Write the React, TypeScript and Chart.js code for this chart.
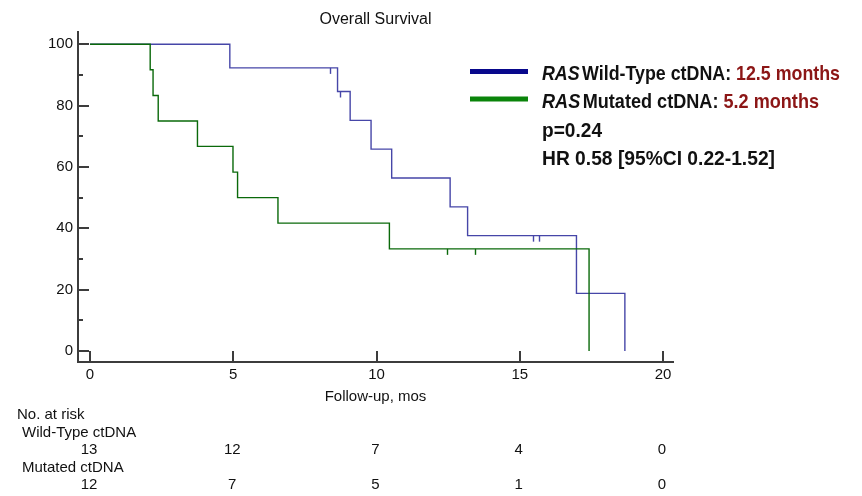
import React, { useEffect, useRef } from "react";
import { Chart, registerables } from "chart.js";

Chart.register(...registerables);

// ---- data ----
const wtTimes = [0, 4.88, 8.64, 9.08, 9.81, 10.53, 12.57, 13.18, 16.98, 18.67];
const wtSurv = [100, 92.3, 84.6, 75.2, 65.8, 56.4, 47.0, 37.6, 18.8, 0];
const wtCensor = [8.37, 8.72, 15.46, 15.68];

const mutTimes = [0, 2.1, 2.2, 2.38, 3.75, 4.99, 5.15, 6.56, 10.45, 17.42];
const mutSurv = [100, 91.7, 83.3, 75.0, 66.7, 58.3, 50.0, 41.7, 33.3, 0];
const mutCensor = [12.45, 13.45];

const xTicks = [0, 5, 10, 15, 20];
const yTicks = [0, 20, 40, 60, 80, 100];
const yMinorTicks = [10, 30, 50, 70, 90];

const riskTimes = [0, 5, 10, 15, 20];
const wtRisk = [13, 12, 7, 4, 0];
const mutRisk = [12, 7, 5, 1, 0];

const chartTitle = "Overall Survival";
const xTitle = "Follow-up, mos";
const riskHeader = "No. at risk";
const wtRowLabel = "Wild-Type ctDNA";
const mutRowLabel = "Mutated ctDNA";
const legendRows = [
  { gene: "RAS", label: "Wild-Type ctDNA: ", median: "12.5 months" },
  { gene: "RAS", label: "Mutated ctDNA: ", median: "5.2 months" },
];
const statLines = ["p=0.24", "HR 0.58 [95%CI 0.22-1.52]"];

// ---- styles ----
const BLUE_LINE = "#4646a8";
const GREEN_LINE = "#0a690a";
const BLUE_LEG = "#08088c";
const GREEN_LEG = "#0a840a";
const RED = "#8c1616";
const AXIS = "#3c3c3c";
const TEXT = "#111111";
const SANS = "'Liberation Sans', Arial, sans-serif";
const NARROW = "'Liberation Sans Narrow', 'Liberation Sans', Arial, sans-serif";
const LEGEND_WIDTHS = [298, 277, 60, 233];
const LEGEND_BASELINES = [80, 108.3, 136.7, 165];

function survivalAt(times: number[], surv: number[], t: number) {
  let s = surv[0];
  for (let i = 0; i < times.length; i++) if (times[i] <= t) s = surv[i];
  return s;
}

type Run = { text: string; font: string; color: string; gapAfter?: number };

function drawFittedLine(ctx: CanvasRenderingContext2D, runs: Run[], x: number, y: number, target: number) {
  let natural = 0;
  let gaps = 0;
  runs.forEach((r) => {
    ctx.font = r.font;
    natural += ctx.measureText(r.text).width;
    gaps += r.gapAfter || 0;
  });
  const sx = (target - gaps) / natural;
  let cx = x;
  runs.forEach((r) => {
    ctx.font = r.font;
    ctx.fillStyle = r.color;
    const w = ctx.measureText(r.text).width;
    ctx.save();
    ctx.translate(cx, y);
    ctx.scale(sx, 1);
    ctx.textAlign = "left";
    ctx.textBaseline = "alphabetic";
    ctx.fillText(r.text, 0, 0);
    ctx.restore();
    cx += w * sx + (r.gapAfter || 0);
  });
}

const overlay = {
  id: "overlay",
  afterDatasetsDraw(chart: any) {
    const ctx = chart.ctx as CanvasRenderingContext2D;
    const xs = chart.scales.x;
    const ys = chart.scales.y;
    ctx.save();
    ctx.lineWidth = 1.4;
    const drawCensor = (times: number[], surv: number[], cens: number[], color: string) => {
      ctx.strokeStyle = color;
      cens.forEach((t) => {
        const px = Math.round(xs.getPixelForValue(t)) + 0.5;
        const py = ys.getPixelForValue(survivalAt(times, surv, t));
        ctx.beginPath();
        ctx.moveTo(px, py);
        ctx.lineTo(px, py + 6);
        ctx.stroke();
      });
    };
    drawCensor(wtTimes, wtSurv, wtCensor, BLUE_LINE);
    drawCensor(mutTimes, mutSurv, mutCensor, GREEN_LINE);
    ctx.restore();
  },
  afterDraw(chart: any) {
    const ctx = chart.ctx as CanvasRenderingContext2D;
    const xs = chart.scales.x;
    const ys = chart.scales.y;
    const area = chart.chartArea;
    ctx.save();
    // inward tick marks
    ctx.strokeStyle = AXIS;
    ctx.lineWidth = 2;
    const hline = (x1: number, y: number, x2: number) => {
      ctx.beginPath();
      ctx.moveTo(x1, y);
      ctx.lineTo(x2, y);
      ctx.stroke();
    };
    yTicks.forEach((v) => {
      const py = Math.round(ys.getPixelForValue(v));
      hline(area.left, py, area.left + 11);
    });
    yMinorTicks.forEach((v) => {
      const py = Math.round(ys.getPixelForValue(v));
      hline(area.left, py, area.left + 5);
    });
    xTicks.forEach((v) => {
      const px = Math.round(xs.getPixelForValue(v));
      ctx.beginPath();
      ctx.moveTo(px, area.bottom);
      ctx.lineTo(px, area.bottom - 11);
      ctx.stroke();
    });

    // title
    ctx.fillStyle = TEXT;
    ctx.font = `16px ${SANS}`;
    ctx.textAlign = "center";
    ctx.textBaseline = "alphabetic";
    ctx.fillText(chartTitle, (area.left + area.right) / 2, 23.5);

    // risk table
    ctx.font = `15px ${SANS}`;
    ctx.textAlign = "left";
    ctx.fillText(riskHeader, 17, 419);
    ctx.fillText(wtRowLabel, 22, 436.5);
    ctx.fillText(mutRowLabel, 22, 471.5);
    ctx.textAlign = "center";
    riskTimes.forEach((t, i) => {
      const px = xs.getPixelForValue(t) - 1;
      ctx.fillText(String(wtRisk[i]), px, 454);
      ctx.fillText(String(mutRisk[i]), px, 489);
    });

    // legend
    ctx.lineWidth = 5;
    ctx.strokeStyle = BLUE_LEG;
    hline(470, 71.5, 528);
    ctx.strokeStyle = GREEN_LEG;
    hline(470, 99, 528);

    const size = 21;
    const boldF = `bold ${size}px ${NARROW}`;
    const italF = `italic bold ${size}px ${NARROW}`;
    legendRows.forEach((r, i) => {
      drawFittedLine(
        ctx,
        [
          { text: r.gene, font: italF, color: TEXT, gapAfter: 2.5 },
          { text: r.label, font: boldF, color: TEXT },
          { text: r.median, font: boldF, color: RED },
        ],
        542,
        LEGEND_BASELINES[i],
        LEGEND_WIDTHS[i]
      );
    });
    statLines.forEach((s, i) => {
      drawFittedLine(ctx, [{ text: s, font: boldF, color: TEXT }], 542, LEGEND_BASELINES[2 + i], LEGEND_WIDTHS[2 + i]);
    });
    ctx.restore();
  },
};

export default function App() {
  const ref = useRef<HTMLCanvasElement | null>(null);
  useEffect(() => {
    document.body.style.margin = "0";
    if (!ref.current) return;
    const chart = new Chart(ref.current, {
      type: "line",
      data: {
        datasets: [
          {
            label: "Mutated ctDNA",
            data: mutTimes.map((t, i) => ({ x: t, y: mutSurv[i] })),
            borderColor: GREEN_LINE,
            borderWidth: 1.4,
            stepped: true,
            pointRadius: 0,
            fill: false,
            order: 0,
          },
          {
            label: "Wild-Type ctDNA",
            data: wtTimes.map((t, i) => ({ x: t, y: wtSurv[i] })),
            borderColor: BLUE_LINE,
            borderWidth: 1.4,
            stepped: true,
            pointRadius: 0,
            fill: false,
            order: 1,
          },
        ],
      },
      options: {
        animation: false,
        responsive: false,
        devicePixelRatio: 1,
        layout: { padding: { left: 0, top: 32, right: 189, bottom: 90 } },
        plugins: {
          legend: { display: false },
          title: { display: false },
          tooltip: { enabled: false },
        },
        events: [],
        scales: {
          x: {
            type: "linear",
            min: -0.42,
            max: 20.35,
            grid: { display: false, drawTicks: false },
            border: { display: true, color: AXIS, width: 2 },
            afterBuildTicks: (s: any) => {
              s.ticks = xTicks.map((v) => ({ value: v }));
            },
            afterFit: (s: any) => {
              s.height = 44;
            },
            ticks: {
              padding: 4,
              color: TEXT,
              font: { family: SANS, size: 15 },
              autoSkip: false,
              maxRotation: 0,
              callback: (v: any) => String(v),
            },
            title: {
              display: true,
              text: xTitle,
              color: TEXT,
              font: { family: SANS, size: 15 },
              padding: { top: 0, bottom: 0 },
            },
          },
          y: {
            type: "linear",
            min: -3.59,
            max: 104,
            grid: { display: false, drawTicks: false },
            border: { display: true, color: AXIS, width: 2 },
            afterBuildTicks: (s: any) => {
              s.ticks = yTicks.map((v) => ({ value: v }));
            },
            afterFit: (s: any) => {
              s.width = 78;
            },
            ticks: {
              padding: 5,
              color: TEXT,
              font: { family: SANS, size: 15 },
              autoSkip: false,
              callback: (v: any) => String(v),
            },
          },
        },
      },
      plugins: [overlay],
    });
    return () => chart.destroy();
  }, []);
  return (
    <div style={{ position: "relative", width: 862, height: 496 }}>
      <canvas ref={ref} width={862} height={496} style={{ display: "block" }} />
    </div>
  );
}
